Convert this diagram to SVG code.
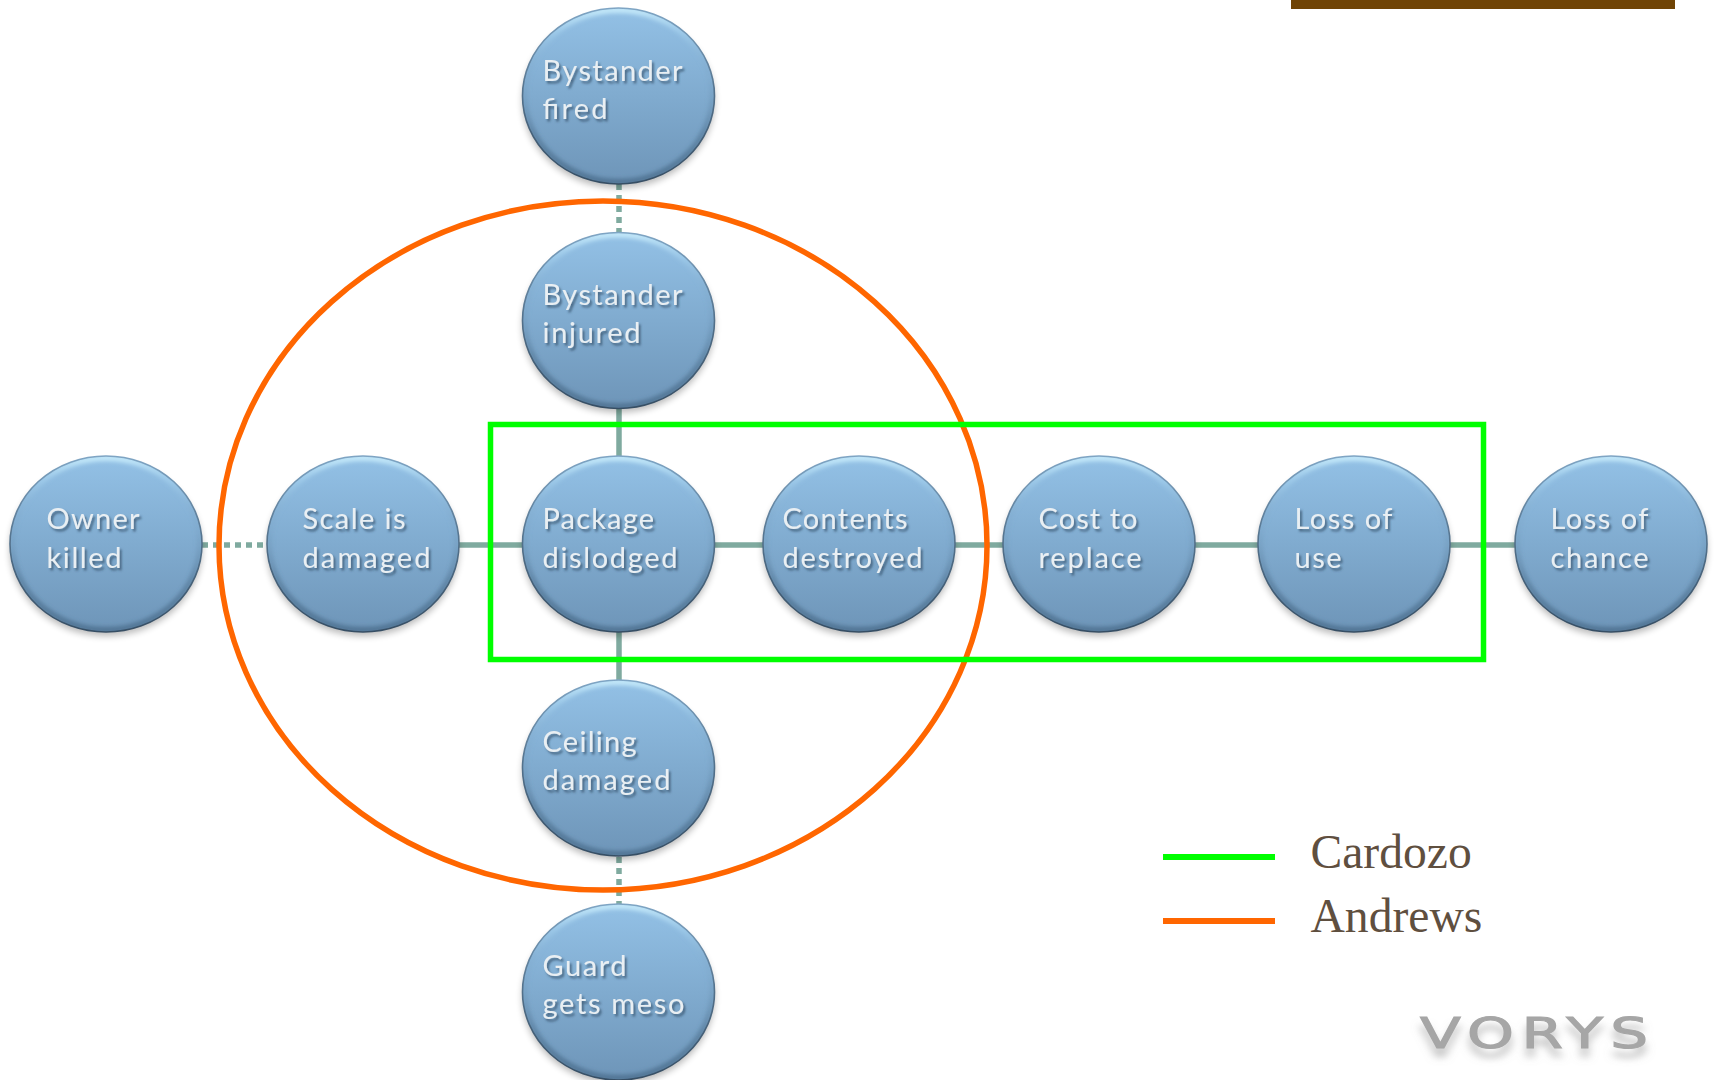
<svg xmlns="http://www.w3.org/2000/svg" width="1714" height="1080" viewBox="0 0 1714 1080">
<style>
.lbl{font-family:"Lato","Open Sans",sans-serif;font-size:29px;fill:#e9eff3;filter:url(#ts)}
.leg{font-family:"Liberation Serif",serif;font-size:47.6px;fill:#5f4f3f}
.solid{stroke:#7faa9f;stroke-width:5.5;fill:none}
.dash{stroke:#7faa9f;stroke-width:5.5;fill:none;stroke-dasharray:6 5}
</style>
<defs>
<linearGradient id="body" x1="0" y1="0" x2="0" y2="1"><stop offset="0" stop-color="#93c1e6"/><stop offset="0.5" stop-color="#80abcf"/><stop offset="1" stop-color="#6e95b8"/></linearGradient>
<linearGradient id="rim" x1="0" y1="0" x2="0" y2="1"><stop offset="0" stop-color="#c8ecfb"/><stop offset="0.14" stop-color="#a8d4f0" stop-opacity="0.55"/><stop offset="0.4" stop-color="#6f96b8" stop-opacity="0.15"/><stop offset="0.7" stop-color="#436582" stop-opacity="0.45"/><stop offset="1" stop-color="#4a6d8c" stop-opacity="0.85"/></linearGradient>
<linearGradient id="edge" x1="0" y1="0" x2="0" y2="1"><stop offset="0" stop-color="#7fa5c4"/><stop offset="0.5" stop-color="#52708a"/><stop offset="1" stop-color="#364e64"/></linearGradient>
<filter id="sh" x="-20%" y="-20%" width="140%" height="140%"><feGaussianBlur stdDeviation="3.5"/></filter>
<filter id="soft" x="-20%" y="-20%" width="140%" height="140%"><feGaussianBlur stdDeviation="2"/></filter>
<filter id="ts" x="-10%" y="-20%" width="125%" height="150%"><feDropShadow dx="2" dy="2.5" stdDeviation="1.3" flood-color="#2e4a63" flood-opacity="0.7"/></filter>
<filter id="vs" x="-10%" y="-30%" width="120%" height="200%"><feDropShadow dx="0" dy="9" stdDeviation="3.5" flood-color="#888" flood-opacity="0.5"/></filter>
<clipPath id="clip"><ellipse cx="0" cy="0" rx="96" ry="88"/></clipPath>
<g id="ball">
<ellipse cx="0" cy="5" rx="96" ry="87" fill="#000" opacity="0.28" filter="url(#sh)"/>
<ellipse cx="0" cy="0" rx="96" ry="88" fill="url(#body)"/>
<g clip-path="url(#clip)"><ellipse cx="0" cy="0" rx="94" ry="86" fill="none" stroke="url(#rim)" stroke-width="6" filter="url(#soft)"/></g>
<ellipse cx="0" cy="0" rx="96" ry="88" fill="none" stroke="url(#edge)" stroke-width="1.6"/>
</g>
</defs>
<rect width="1714" height="1080" fill="#fff"/>
<rect x="1291" y="0" width="384" height="9" fill="#704405"/>
<g id="connectors">
<path class="dash" d="M619 184V232"/>
<path class="solid" d="M619 409V456"/>
<path class="solid" d="M619 632V680"/>
<path class="dash" d="M619 857V904"/>
<path class="dash" d="M202 545H267"/>
<path class="solid" d="M459 545H522"/>
<path class="solid" d="M715 545H763"/>
<path class="solid" d="M955 545H1003"/>
<path class="solid" d="M1195 545H1258"/>
<path class="solid" d="M1450 545H1515"/>
</g>
<g id="n-fired"><use href="#ball" x="618.5" y="96"/><text class="lbl" x="542.5" y="81" textLength="140">Bystander</text><text class="lbl" x="542.5" y="119" textLength="65">fired</text></g>
<g id="n-injured"><use href="#ball" x="618.5" y="320.5"/><text class="lbl" x="542.5" y="305" textLength="140">Bystander</text><text class="lbl" x="542.5" y="343" textLength="98">injured</text></g>
<g id="n-owner"><use href="#ball" x="106" y="544"/><text class="lbl" x="46.5" y="529" textLength="93">Owner</text><text class="lbl" x="46.5" y="568" textLength="75">killed</text></g>
<g id="n-scale"><use href="#ball" x="363" y="544"/><text class="lbl" x="302.5" y="529" textLength="103">Scale is</text><text class="lbl" x="302.5" y="568" textLength="128">damaged</text></g>
<g id="n-package"><use href="#ball" x="618.5" y="544"/><text class="lbl" x="542.5" y="529" textLength="111.5">Package</text><text class="lbl" x="542.5" y="568" textLength="135">dislodged</text></g>
<g id="n-contents"><use href="#ball" x="859" y="544"/><text class="lbl" x="782.5" y="529" textLength="125">Contents</text><text class="lbl" x="782.5" y="568" textLength="140">destroyed</text></g>
<g id="n-cost"><use href="#ball" x="1099" y="544"/><text class="lbl" x="1038.5" y="529" textLength="99">Cost to</text><text class="lbl" x="1038.5" y="568" textLength="103">replace</text></g>
<g id="n-use"><use href="#ball" x="1354" y="544"/><text class="lbl" x="1294.5" y="529" textLength="98">Loss of</text><text class="lbl" x="1294.5" y="568" textLength="47">use</text></g>
<g id="n-chance"><use href="#ball" x="1611" y="544"/><text class="lbl" x="1550.5" y="529" textLength="98">Loss of</text><text class="lbl" x="1550.5" y="568" textLength="98">chance</text></g>
<g id="n-ceiling"><use href="#ball" x="618.5" y="768"/><text class="lbl" x="542.5" y="752" textLength="94">Ceiling</text><text class="lbl" x="542.5" y="790" textLength="128">damaged</text></g>
<g id="n-guard"><use href="#ball" x="618.5" y="992"/><text class="lbl" x="542.5" y="976" textLength="84">Guard</text><text class="lbl" x="542.5" y="1014" textLength="142">gets meso</text></g>
<ellipse id="andrews" cx="603" cy="545.5" rx="384" ry="344.5" fill="none" stroke="#ff6600" stroke-width="5.5"/>
<rect id="cardozo" x="490.5" y="424.5" width="993" height="235" fill="none" stroke="#00ff00" stroke-width="5.5"/>
<g id="legend">
<rect x="1163" y="854" width="112" height="6" fill="#00ff00"/>
<rect x="1163" y="918" width="112" height="6" fill="#ff6600"/>
<text class="leg" x="1310.5" y="868">Cardozo</text>
<text class="leg" x="1310.5" y="932">Andrews</text>
</g>
<g id="logo"><text transform="translate(1420 1048) scale(1.42 1)" font-family="DejaVu Sans, sans-serif" font-size="42" letter-spacing="5.2" fill="#a6a6a6" stroke="#a6a6a6" stroke-width="1.1" filter="url(#vs)">VORYS</text></g>
</svg>
